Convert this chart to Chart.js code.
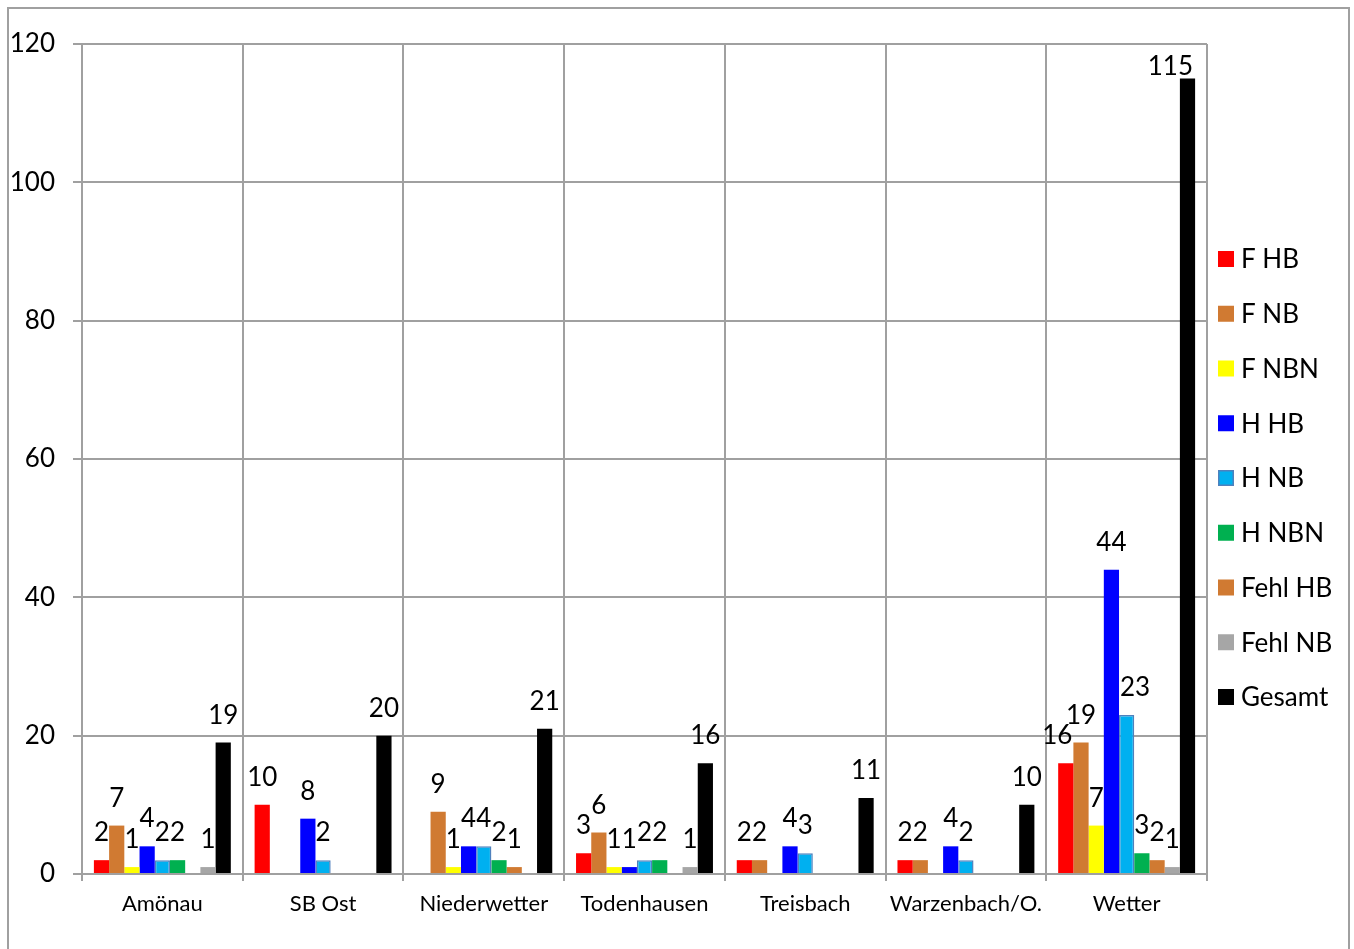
<!DOCTYPE html>
<html>
<head>
<meta charset="utf-8">
<script src="https://cdn.jsdelivr.net/npm/chart.js@4"></script>
<style>
  html, body { margin: 0; padding: 0; background: #fff; overflow: hidden; }
  #wrap { position: relative; width: 1354px; height: 949px; }
  #frame { position: absolute; left: 7px; top: 7px; width: 1339px; height: 960px;
           border: 2px solid #a0a0a0; pointer-events: none; }
  canvas { position: absolute; left: 0; top: 0; }
</style>
</head>
<body>
<div id="wrap">
  <canvas id="c" width="1354" height="949"></canvas>
  <div id="frame"></div>
</div>
<script>
// Ortsteile
const categories = ['Amönau', 'SB Ost', 'Niederwetter', 'Todenhausen', 'Treisbach', 'Warzenbach/O.', 'Wetter'];

// Werte je Reihe (null = kein Eintrag)
const fHB    = [2, 10, null, 3, 2, 2, 16];
const fNB    = [7, null, 9, 6, 2, 2, 19];
const fNBN   = [1, null, 1, 1, null, null, 7];
const hHB    = [4, 8, 4, 1, 4, 4, 44];
const hNB    = [2, 2, 4, 2, 3, 2, 23];
const hNBN   = [2, null, 2, 2, null, null, 3];
const fehlHB = [null, null, 1, null, null, null, 2];
const fehlNB = [1, null, null, 1, null, null, 1];
const gesamt = [19, 20, 21, 16, 11, 10, 115];

const seriesNames = ['F HB', 'F NB', 'F NBN', 'H HB', 'H NB', 'H NBN', 'Fehl HB', 'Fehl NB', 'Gesamt'];
const yTicks = [0, 20, 40, 60, 80, 100, 120];

const FONT = 'Lato';
const GRID = '#a0a0a0';

function ds(label, data, color, border) {
  return {
    label, data,
    backgroundColor: color,
    borderColor: border || color,
    borderWidth: border ? 1.5 : 0,
    categoryPercentage: 0.852,
    barPercentage: 1.0
  };
}

const datasets = [
  ds(seriesNames[0], fHB, '#ff0000'),
  ds(seriesNames[1], fNB, '#d07a32'),
  ds(seriesNames[2], fNBN, '#ffff00'),
  ds(seriesNames[3], hHB, '#0000ff'),
  ds(seriesNames[4], hNB, '#00b0f0', '#4f81bd'),
  ds(seriesNames[5], hNBN, '#00b050'),
  ds(seriesNames[6], fehlHB, '#d07a32'),
  ds(seriesNames[7], fehlNB, '#a6a6a6'),
  ds(seriesNames[8], gesamt, '#000000')
];

// Wertbeschriftung über jedem Balken; weicht benachbarten höheren Balken seitlich aus
const valueLabels = {
  id: 'valueLabels',
  afterDatasetsDraw(chart) {
    const { ctx, chartArea } = chart;
    const sets = chart.data.datasets;
    const barAt = (i, j) => {
      if (i < 0 || i >= sets.length || sets[i].data[j] == null) return null;
      return chart.getDatasetMeta(i).data[j];
    };
    ctx.save();
    ctx.font = '26px ' + FONT;
    ctx.fillStyle = '#000';
    ctx.textAlign = 'center';
    ctx.textBaseline = 'alphabetic';
    const capH = 19;
    sets.forEach((set, i) => {
      const meta = chart.getDatasetMeta(i);
      meta.data.forEach((bar, j) => {
        const v = set.data[j];
        if (v == null) return;
        const text = String(v);
        const w = ctx.measureText(text).width;
        let x = bar.x;
        let y = bar.y - 19;
        if (y - capH < chartArea.top + 12) y = chartArea.top + 12 + capH;

        const hits = (nb) => nb && nb.y < y - 1;
        const left = barAt(i - 1, j), right = barAt(i + 1, j);
        const overL = hits(left) && (x - w / 2) < left.x + left.width / 2 - 1.5;
        const overR = hits(right) && (x + w / 2) > right.x - right.width / 2 + 1.5;
        if (overR && !overL) x = right.x - right.width / 2 - 1 - w / 2;
        else if (overL && !overR) x = left.x + left.width / 2 + 1 + w / 2;

        if (x + w / 2 > chartArea.right - 14) x = chartArea.right - 14 - w / 2;
        ctx.fillText(text, x, y);
      });
    });
    ctx.restore();
  }
};

// Legende rechts neben der Zeichenfläche
const sideLegend = {
  id: 'sideLegend',
  afterDraw(chart) {
    const { ctx, chartArea } = chart;
    const x0 = chartArea.right + 11;
    const y0 = 259, step = 54.75, box = 16;
    ctx.save();
    ctx.font = '26px ' + FONT;
    ctx.textAlign = 'left';
    ctx.textBaseline = 'middle';
    chart.data.datasets.forEach((set, i) => {
      const cy = y0 + i * step;
      ctx.fillStyle = set.backgroundColor;
      ctx.fillRect(x0, cy - box / 2, box, box);
      if (set.borderWidth) {
        ctx.strokeStyle = set.borderColor;
        ctx.lineWidth = 1.5;
        ctx.strokeRect(x0 + 0.75, cy - box / 2 + 0.75, box - 1.5, box - 1.5);
      }
      ctx.fillStyle = '#000';
      ctx.fillText(set.label, x0 + 23, cy + 1);
    });
    ctx.restore();
  }
};

new Chart(document.getElementById('c'), {
  type: 'bar',
  data: { labels: categories, datasets },
  options: {
    responsive: false,
    animation: false,
    devicePixelRatio: 1,
    layout: { padding: { top: 44, right: 147, bottom: 0, left: 0 } },
    plugins: { legend: { display: false }, tooltip: { enabled: false } },
    scales: {
      x: {
        grid: { offset: true, color: GRID, lineWidth: 2, tickLength: 7 },
        border: { color: GRID, width: 2 },
        ticks: { color: '#000', font: { family: FONT, size: 22 }, padding: 10, maxRotation: 0, autoSkip: false },
        afterFit(s) { s.height = 75; }
      },
      y: {
        min: yTicks[0],
        max: yTicks[yTicks.length - 1],
        afterBuildTicks(s) { s.ticks = yTicks.map(v => ({ value: v })); },
        grid: { color: GRID, lineWidth: 2, tickLength: 9 },
        border: { color: GRID, width: 2 },
        ticks: { color: '#000', font: { family: FONT, size: 26 }, padding: 18 },
        afterFit(s) { s.width = 82; }
      }
    }
  },
  plugins: [valueLabels, sideLegend]
});
</script>
</body>
</html>
